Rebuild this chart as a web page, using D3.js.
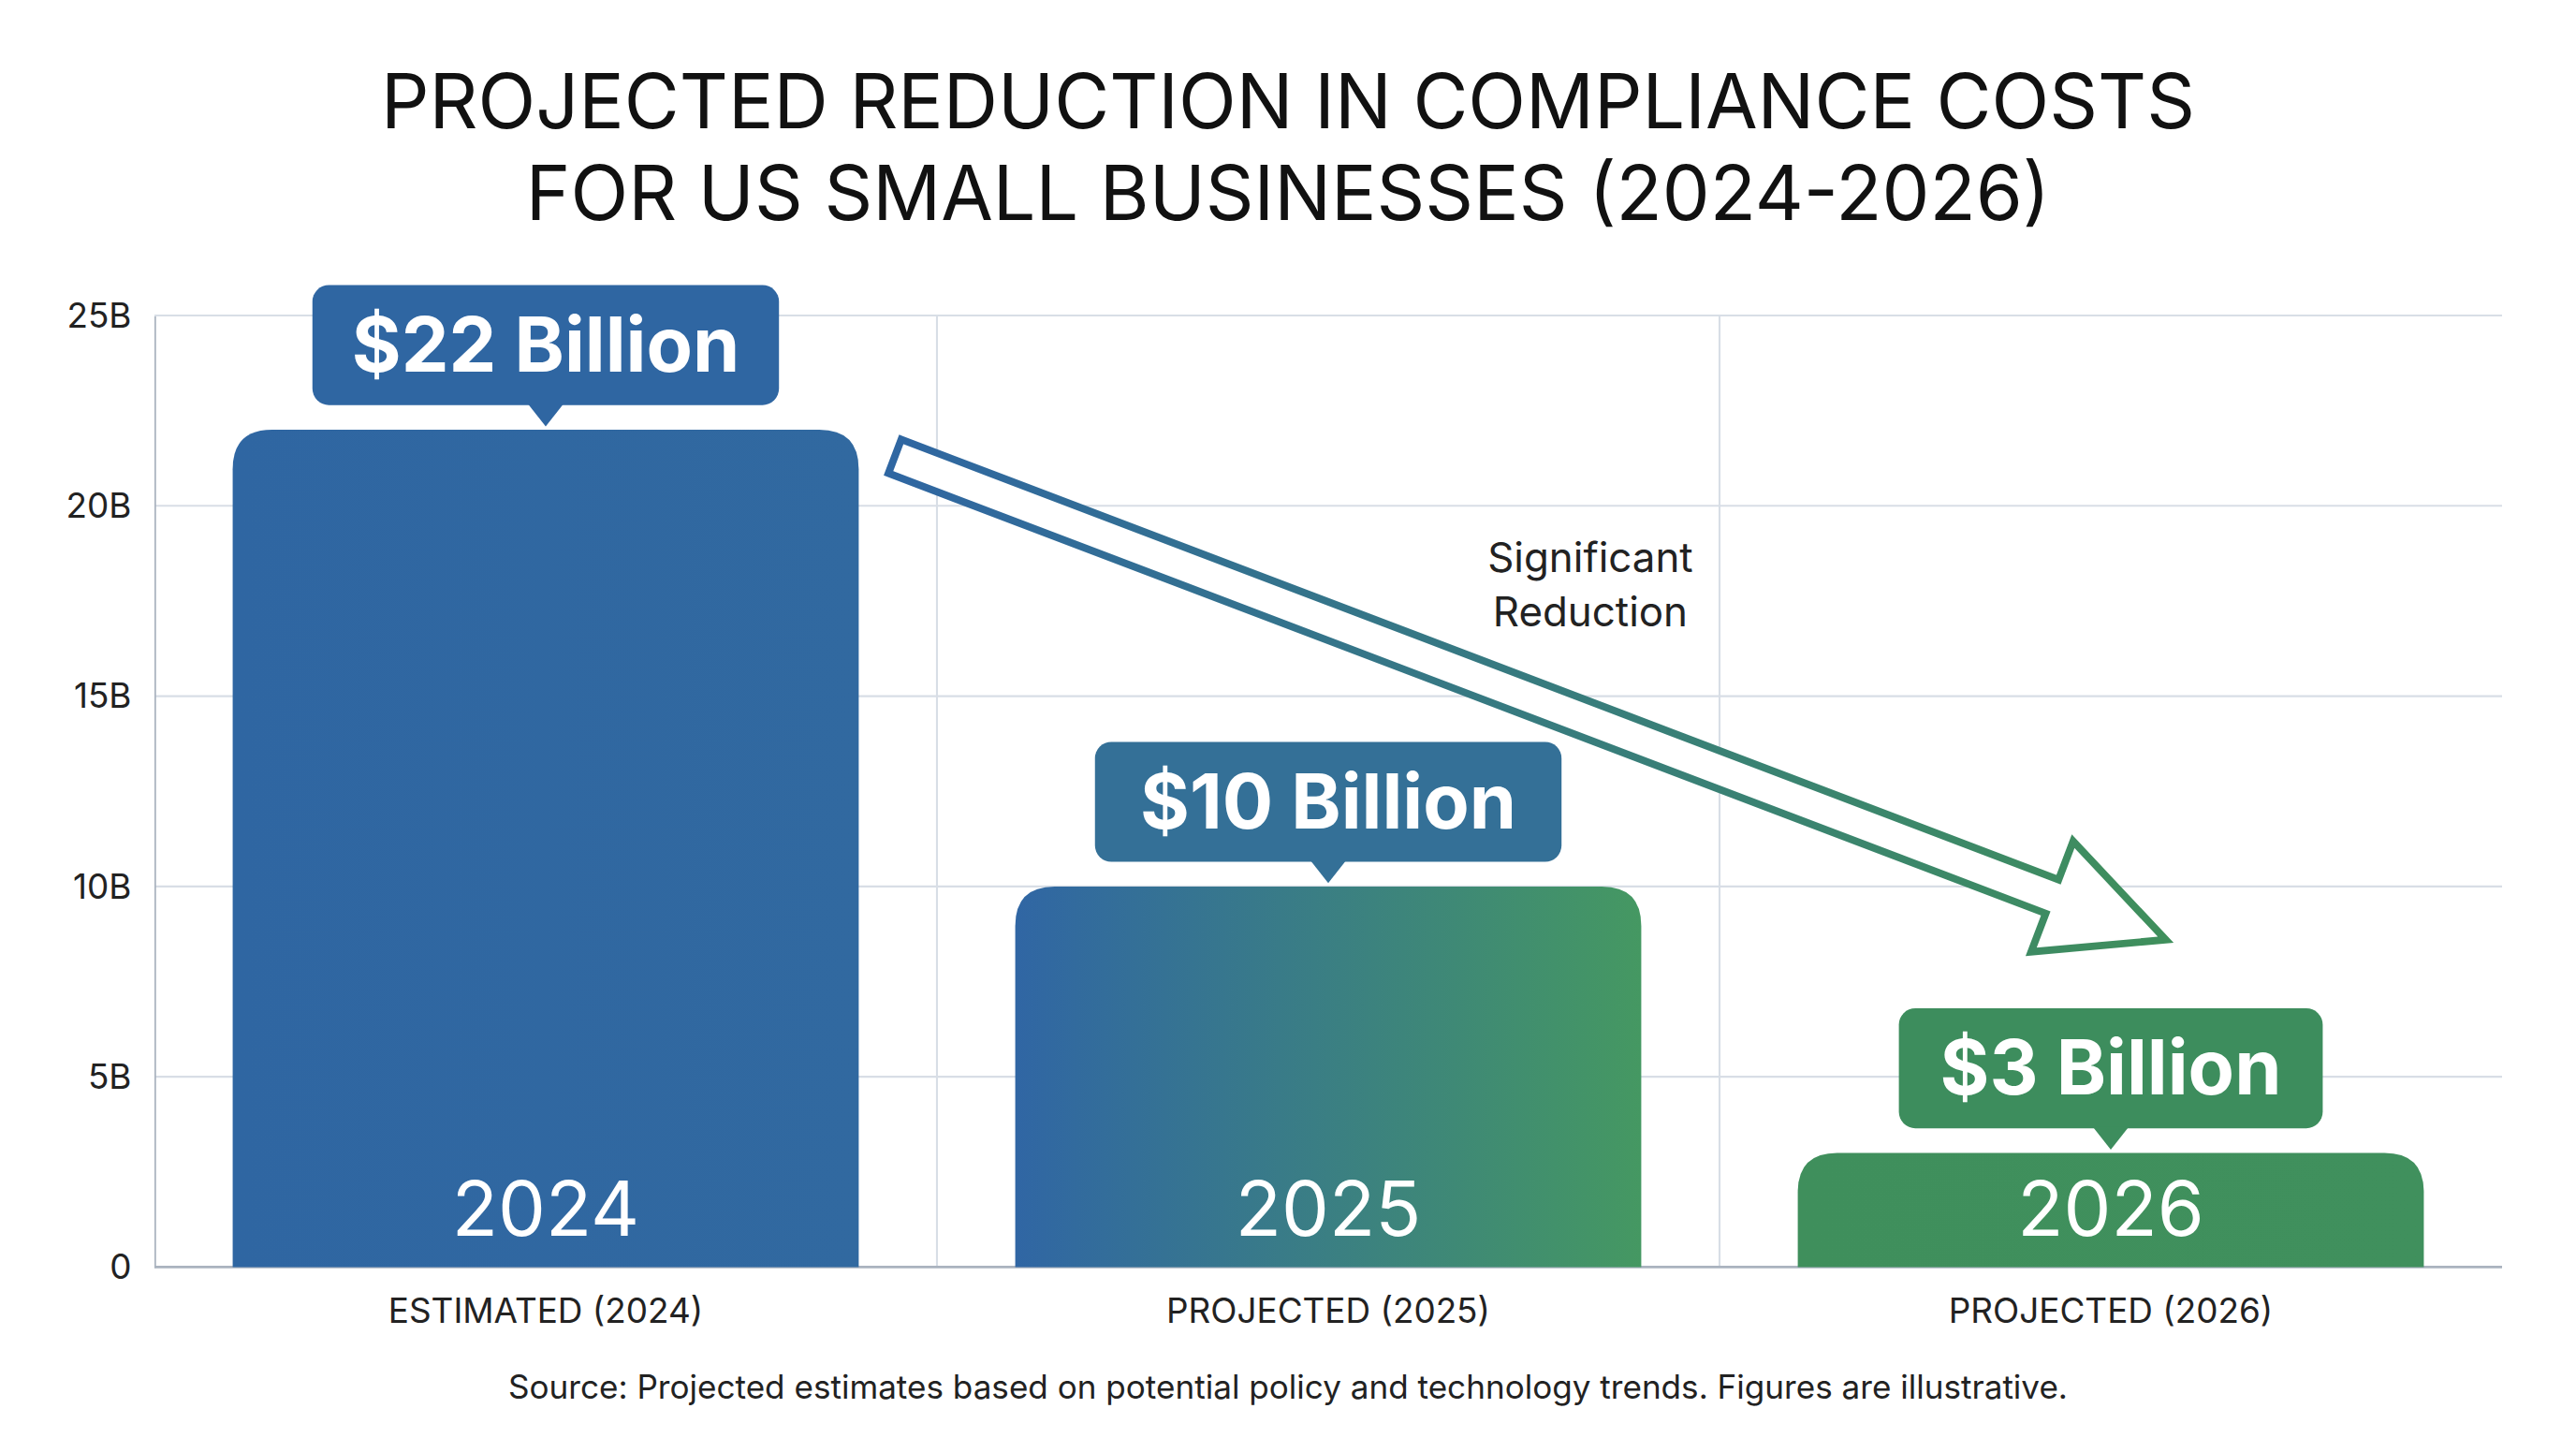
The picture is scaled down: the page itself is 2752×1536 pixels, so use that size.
<!DOCTYPE html>
<html><head><meta charset="utf-8">
<script src="https://cdn.jsdelivr.net/npm/d3@7"></script>
<style>body{margin:0;background:#fff}svg{display:block}text{font-family:Inter,"Noto Sans",sans-serif}</style>
</head><body>
<svg id="chart" width="2752" height="1536" viewBox="0 0 1568 875" preserveAspectRatio="none"></svg>
<script>
var categories = ["ESTIMATED (2024)", "PROJECTED (2025)", "PROJECTED (2026)"];
var years = ["2024", "2025", "2026"];
var values = [22, 10, 3];
var valueLabels = ["$22 Billion", "$10 Billion", "$3 Billion"];
var tickValues = [0, 5, 10, 15, 20, 25];

var svg = d3.select("#chart");
var blue = "#2f66a2", green = "#3f8f5c";

var x = d3.scaleBand().domain(categories).range([94, 1523]).paddingInner(0.2).paddingOuter(0.1);
var y = d3.scaleLinear().domain([0, 25]).range([771, 192]);

var defs = svg.append("defs");
function grad(id, c1, c2, units) {
  var g = defs.append("linearGradient").attr("id", id).attr("x1", 0).attr("x2", 1).attr("y1", 0).attr("y2", 0);
  if (units) g.attr("gradientUnits", "userSpaceOnUse").attr("x1", units[0]).attr("x2", units[1]);
  g.append("stop").attr("offset", "0%").attr("stop-color", c1);
  g.append("stop").attr("offset", "100%").attr("stop-color", c2);
}
grad("g0", blue, "#3169a0");
grad("g1", "#3066a4", "#459862");
grad("g2", green, "#40905d");
grad("garrow", blue, green, [540, 1315]);
var fills = ["url(#g0)", "url(#g1)", "url(#g2)"];
var boxCols = ["#2f66a2", "#347097", "#3d8d5d"];

// title
svg.append("text").attr("x", 784).attr("y", 78).attr("text-anchor", "middle").attr("font-size", 46).attr("fill", "#111")
  .text("PROJECTED REDUCTION IN COMPLIANCE COSTS");
svg.append("text").attr("x", 784).attr("y", 134).attr("text-anchor", "middle").attr("font-size", 46).attr("fill", "#111")
  .text("FOR US SMALL BUSINESSES (2024-2026)");

// grid
svg.selectAll(".hg").data(tickValues.slice(1)).enter().append("line")
  .attr("x1", 94).attr("x2", 1523).attr("y1", d => y(d)).attr("y2", d => y(d))
  .attr("stroke", "#d8dee6").attr("stroke-width", 1.2);
var step = x.step();
svg.selectAll(".vg").data([1, 2]).enter().append("line")
  .attr("x1", d => x(categories[d]) - step * 0.1).attr("x2", d => x(categories[d]) - step * 0.1)
  .attr("y1", y(25)).attr("y2", y(0)).attr("stroke", "#d8dee6").attr("stroke-width", 1.2);

// y axis
var ya = svg.append("g").attr("transform", "translate(94,0)")
  .call(d3.axisLeft(y).tickValues(tickValues).tickSize(0).tickPadding(14).tickFormat(d => d === 0 ? "0" : d + "B"));
ya.select(".domain").attr("stroke", "#aab3bf");
ya.selectAll("text").attr("font-size", 21).attr("fill", "#222").attr("font-family", "Inter,sans-serif");
svg.append("line").attr("x1", 94).attr("x2", 1523).attr("y1", y(0)).attr("y2", y(0)).attr("stroke", "#aab3bf").attr("stroke-width", 1.5);

// bars with rounded tops
function barPath(x0, w, yt, yb, r) {
  return "M" + x0 + "," + yb + "V" + (yt + r) + "Q" + x0 + "," + yt + " " + (x0 + r) + "," + yt +
    "H" + (x0 + w - r) + "Q" + (x0 + w) + "," + yt + " " + (x0 + w) + "," + (yt + r) + "V" + yb + "Z";
}
categories.forEach(function (c, i) {
  var x0 = x(c), w = x.bandwidth(), cx = x0 + w / 2, yt = y(values[i]);
  svg.append("path").attr("d", barPath(x0, w, yt, y(0), 24)).attr("fill", fills[i]);
  svg.append("text").attr("x", cx).attr("y", 752).attr("text-anchor", "middle").attr("font-size", 46)
    .attr("fill", "#fff").text(years[i]);
  svg.append("text").attr("x", cx).attr("y", 805).attr("text-anchor", "middle").attr("font-size", 21)
    .attr("fill", "#222").text(c);
  // callout
  var bw = i === 2 ? 258 : 284, bh = 73, by = yt - 15 - bh;
  svg.append("rect").attr("x", cx - bw / 2).attr("y", by).attr("width", bw).attr("height", bh).attr("rx", 10).attr("fill", boxCols[i]);
  svg.append("path").attr("d", "M" + (cx - 11) + "," + (by + bh - 1) + "L" + cx + "," + (by + bh + 13) + "L" + (cx + 11) + "," + (by + bh - 1) + "Z").attr("fill", boxCols[i]);
  svg.append("text").attr("x", cx).attr("y", by + bh / 2 + 16).attr("text-anchor", "middle").attr("font-size", 46)
    .attr("font-weight", 700).attr("fill", "#fff").text(valueLabels[i]);
});

// hollow arrow
var sx = x(categories[0]) + x.bandwidth() + 22, sy = y(21.3);
var ex = x(categories[2]) + 224, ey = y(8.6);
var dx = ex - sx, dy = ey - sy, L = Math.hypot(dx, dy), ux = dx / L, uy = dy / L, nx = -uy, ny = ux;
var sw = 11, hw = 36, hl = 74;
function P(a, b) { return [sx + ux * a + nx * b, sy + uy * a + ny * b]; }
var pts = [P(0, -sw), P(L - hl, -sw), P(L - hl, -hw), P(L, 0), P(L - hl, hw), P(L - hl, sw), P(0, sw)];
svg.append("path").attr("d", d3.line()(pts) + "Z").attr("fill", "#fff").attr("stroke", "url(#garrow)").attr("stroke-width", 4.5).attr("stroke-linejoin", "miter");

svg.append("text").attr("x", 968).attr("y", 348).attr("text-anchor", "middle").attr("font-size", 25).attr("fill", "#222").text("Significant");
svg.append("text").attr("x", 968).attr("y", 381).attr("text-anchor", "middle").attr("font-size", 25).attr("fill", "#222").text("Reduction");

svg.append("text").attr("x", 784).attr("y", 851).attr("text-anchor", "middle").attr("font-size", 20).attr("fill", "#222")
  .text("Source: Projected estimates based on potential policy and technology trends. Figures are illustrative.");
</script>
</body></html>
